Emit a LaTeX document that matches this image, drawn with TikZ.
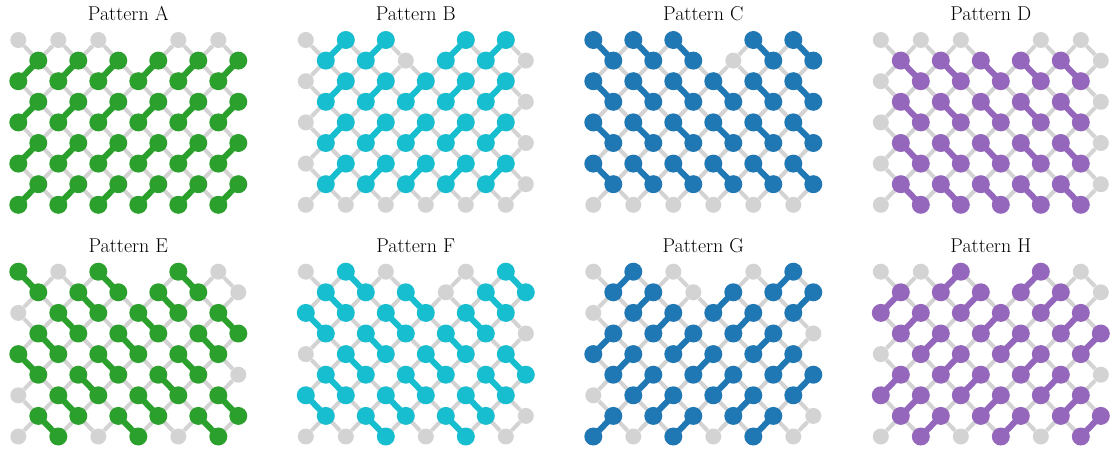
\documentclass[tikz,border=0pt]{standalone}
\usepackage{tikz}
\usetikzlibrary{backgrounds}
\definecolor{latgray}{HTML}{D3D3D3}
\definecolor{tabgreen}{HTML}{2CA02C}
\definecolor{tabcyan}{HTML}{17BECF}
\definecolor{tabblue}{HTML}{1F77B4}
\definecolor{tabpurple}{HTML}{9467BD}
\tikzset{
  site/.style={circle, fill=latgray, inner sep=0pt, minimum size=12pt},
  onsite/.style={circle, fill=#1, inner sep=0pt, minimum size=13.5pt},
  bond/.style={draw=latgray, line width=3pt},
  dimer/.style={draw=#1, line width=4.5pt},
  ptitle/.style={font=\fontsize{15}{18}\selectfont, anchor=base, inner sep=0pt},
}
% #1 name, #2,#3 corner site, #4 title, #5 colour, #6 row step of a dimer, #7 which sites start one
\newcommand{\dimerpanel}[7]{%
\begin{scope}[shift={(#2,#3)}]
\node[ptitle] (#1-title) at (110,-19.3) {#4};
% sites
\foreach \row in {0,...,8}{
  \foreach \col in {0,...,11}{
    \pgfmathtruncatemacro\here{(mod(\col+\row,2)==0)*(1-(\col==6)*(\row==0))}
    \ifnum\here=1 \node[site] (#1-\col-\row) at (20*\col,20.6*\row) {}; \fi
  }
}
% lattice bonds
\begin{scope}[on background layer]
\foreach \row in {0,...,7}{
  \foreach \col in {0,...,11}{
    \pgfmathtruncatemacro\here{(mod(\col+\row,2)==0)*(1-(\col==6)*(\row==0))}
    \pgfmathtruncatemacro\nrow{\row+1}
    \pgfmathtruncatemacro\rcol{\col+1}
    \pgfmathtruncatemacro\lcol{\col-1}
    \ifnum\here=1
      \ifnum\col<11 \draw[bond] (#1-\col-\row) -- (#1-\rcol-\nrow); \fi
      \ifnum\col>0 \draw[bond] (#1-\col-\row) -- (#1-\lcol-\nrow); \fi
    \fi
  }
}
\end{scope}
% dimers
\foreach \row in {0,...,8}{
  \foreach \col in {0,...,10}{
    \pgfmathtruncatemacro\prow{\row+(#6)}
    \pgfmathtruncatemacro\pcol{\col+1}
    \pgfmathtruncatemacro\pair{(mod(\col+\row,2)==0)*(1-(\col==6)*(\row==0))*(\prow>-1)*(\prow<9)*(1-(\pcol==6)*(\prow==0))*(#7)}
    \ifnum\pair=1
      \draw[dimer=#5] (#1-\col-\row) -- (#1-\pcol-\prow);
      \node[onsite=#5] (#1-\col-\row-on) at (#1-\col-\row) {};
      \node[onsite=#5] (#1-\pcol-\prow-on) at (#1-\pcol-\prow) {};
    \fi
  }
}
\end{scope}}

\begin{document}
\begin{tikzpicture}[x=0.75pt, y=-0.75pt]
\useasboundingbox (0,0) rectangle (1116,450);
% top row
\dimerpanel{A}{18.3}{40}{Pattern A}{tabgreen}{-1}{mod(\row,2)==0}
\dimerpanel{B}{305.8}{40}{Pattern B}{tabcyan}{-1}{mod(\row,2)==1}
\dimerpanel{C}{593.3}{40}{Pattern C}{tabblue}{1}{mod(\row,2)==0}
\dimerpanel{D}{880.8}{40}{Pattern D}{tabpurple}{1}{mod(\row,2)==1}
% bottom row
\dimerpanel{E}{18.3}{271.7}{Pattern E}{tabgreen}{1}{mod(\col+\row,4)==0}
\dimerpanel{F}{305.8}{271.7}{Pattern F}{tabcyan}{1}{mod(\col+\row,4)==2}
\dimerpanel{G}{593.3}{271.7}{Pattern G}{tabblue}{-1}{mod(\col-\row+16,4)==0}
\dimerpanel{H}{880.8}{271.7}{Pattern H}{tabpurple}{-1}{mod(\col-\row+16,4)==2}
\end{tikzpicture}
\end{document}
